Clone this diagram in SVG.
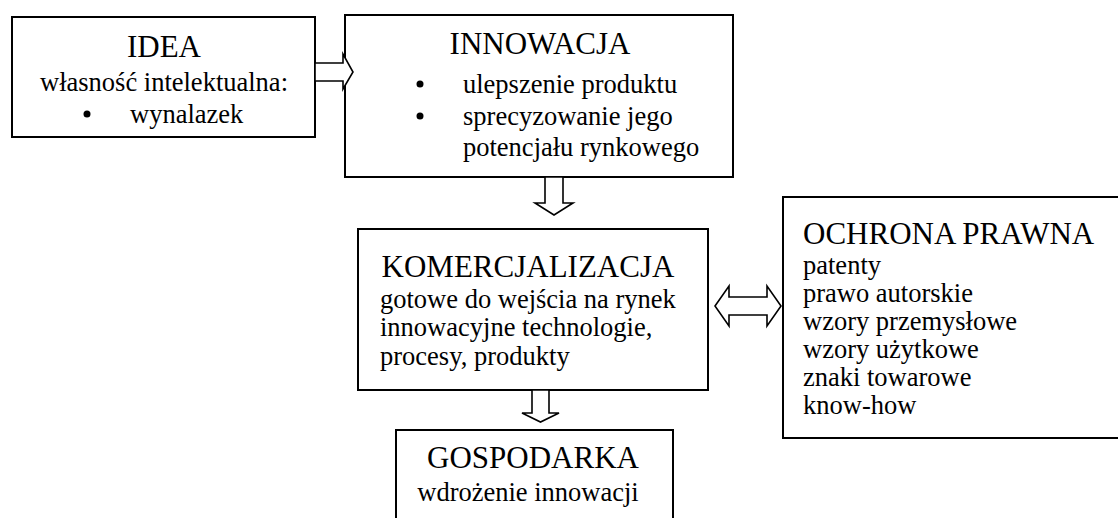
<svg xmlns="http://www.w3.org/2000/svg" width="1118" height="518" viewBox="0 0 1118 518">
<style>
.box{fill:#fff;stroke:#000;stroke-width:2}
.arr{fill:#fff;stroke:#000;stroke-width:1.6;stroke-linejoin:miter}
text{font-family:"Liberation Serif","Times New Roman",serif;fill:#000}
.t{font-size:31px}
.b{font-size:26.5px}
.c{text-anchor:middle}
</style>
<rect width="1118" height="518" fill="#fff"/>
<g id="idea">
<rect class="box" x="12" y="17" width="303" height="120"/>
<text class="t c" x="164" y="57">IDEA</text>
<text class="b c" x="164" y="91">własność intelektualna:</text>
<circle cx="87" cy="114" r="3.5" fill="#000"/>
<text class="b" x="130" y="123">wynalazek</text>
</g>
<g id="innowacja">
<rect class="box" x="345" y="15" width="388" height="162"/>
<text class="t c" x="540" y="54">INNOWACJA</text>
<circle cx="420" cy="84" r="3.5" fill="#000"/>
<text class="b" x="463" y="93">ulepszenie produktu</text>
<circle cx="420" cy="116" r="3.5" fill="#000"/>
<text class="b" x="463" y="125">sprecyzowanie jego</text>
<text class="b" x="463" y="156">potencjału rynkowego</text>
</g>
<g id="komercjalizacja">
<rect class="box" x="358" y="229" width="350" height="161"/>
<text class="t c" x="528" y="277">KOMERCJALIZACJA</text>
<text class="b" x="380" y="308">gotowe do wejścia na rynek</text>
<text class="b" x="380" y="336">innowacyjne technologie,</text>
<text class="b" x="380" y="365">procesy, produkty</text>
</g>
<g id="ochrona">
<rect class="box" x="783" y="197" width="345" height="241"/>
<text class="t" x="803" y="244">OCHRONA PRAWNA</text>
<text class="b" x="803" y="274">patenty</text>
<text class="b" x="803" y="302">prawo autorskie</text>
<text class="b" x="803" y="330">wzory przemysłowe</text>
<text class="b" x="803" y="358">wzory użytkowe</text>
<text class="b" x="803" y="386">znaki towarowe</text>
<text class="b" x="803" y="414">know-how</text>
</g>
<g id="gospodarka">
<rect class="box" x="396" y="430" width="277" height="100"/>
<text class="t c" x="533" y="468">GOSPODARKA</text>
<text class="b c" x="528" y="501">wdrożenie innowacji</text>
</g>
<g id="connectors">
<polygon class="arr" points="315,63 343,63 343,54 353,72 343,89 343,81 315,81"/>
<polygon class="arr" points="545,177 563,177 563,203 573,203 554,215 535,203 545,203"/>
<polygon class="arr" points="532,390 549,390 549,413 559,413 540.5,422 522,413 532,413"/>
<polygon class="arr" points="715,306 729,286 729,297 767,297 767,286 781,306 767,326 767,315 729,315 729,326"/>
</g>
</svg>
